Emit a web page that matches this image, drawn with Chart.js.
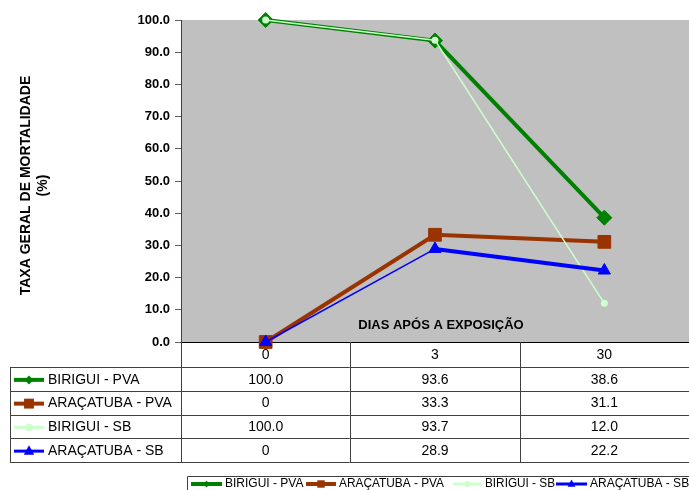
<!DOCTYPE html>
<html>
<head>
<meta charset="utf-8">
<script src="https://cdn.jsdelivr.net/npm/chart.js@4/dist/chart.umd.min.js"></script>
<style>
  html, body { margin: 0; padding: 0; background: #ffffff; }
  #wrap { width: 689px; height: 490px; }
</style>
</head>
<body>
<div id="wrap"><canvas id="chart" width="689" height="490"></canvas></div>
<script>
// Days after exposure and mortality rates (%)
const days = ['0', '3', '30'];
const biriguiPva = [100.0, 93.6, 38.6];
const aracatubaPva = [0, 33.3, 31.1];
const biriguiSb = [100.0, 93.7, 12.0];
const aracatubaSb = [0, 28.9, 22.2];
const seriesNames = ['BIRIGUI - PVA', 'ARAÇATUBA - PVA', 'BIRIGUI - SB', 'ARAÇATUBA - SB'];
const yTitle = ['TAXA GERAL DE MORTALIDADE', '(%)'];
const xTitle = 'DIAS APÓS A EXPOSIÇÃO';

const FONT = "Arial, 'Liberation Sans', sans-serif";
const GREEN = '#008000', BROWN = '#993300', LIGHT = '#CCFFCC', BLUE = '#0000FF';
const LINE = '#404040';

// marker look per series: [pointStyle, color, table/legend radius, sample line width]
const swatches = [
  ['rectRot', GREEN, 4.5, 4],
  ['rect', BROWN, 7, 4],
  ['circle', LIGHT, 4, 3],
  ['triangle', BLUE, 6, 3]
];

function drawMarker(ctx, style, x, y, r, color) {
  ctx.save();
  ctx.fillStyle = color;
  ctx.beginPath();
  if (style === 'rectRot') {
    ctx.moveTo(x, y - r); ctx.lineTo(x + r, y); ctx.lineTo(x, y + r); ctx.lineTo(x - r, y);
  } else if (style === 'rect') {
    const s = r * Math.SQRT1_2;
    ctx.rect(x - s, y - s, 2 * s, 2 * s);
  } else if (style === 'triangle') {
    ctx.moveTo(x, y - r);
    ctx.lineTo(x + r * 0.866, y + r * 0.6);
    ctx.lineTo(x - r * 0.866, y + r * 0.6);
  } else {
    ctx.arc(x, y, r, 0, Math.PI * 2);
  }
  ctx.closePath();
  ctx.fill();
  ctx.restore();
}

function drawSwatch(ctx, i, x0, x1, y, scale) {
  const [style, color, r, lw] = swatches[i];
  ctx.save();
  ctx.strokeStyle = color;
  ctx.lineWidth = lw;
  ctx.beginPath();
  ctx.moveTo(x0, y); ctx.lineTo(x1, y);
  ctx.stroke();
  ctx.restore();
  drawMarker(ctx, style, (x0 + x1) / 2, y, r * scale, color);
}

const fmt = v => (v === 0 ? '0' : v.toFixed(1));

// grey plot background
const plotBackground = {
  id: 'plotBackground',
  beforeDraw(chart) {
    const { ctx, chartArea: a } = chart;
    ctx.save();
    ctx.fillStyle = '#C0C0C0';
    ctx.fillRect(a.left, a.top, a.right - a.left, a.bottom - a.top);
    ctx.restore();
  }
};

// axis titles, data table and bottom legend
const extras = {
  id: 'extras',
  beforeDatasetsDraw(chart) {
    const { ctx } = chart;
    ctx.save();
    // x title sits inside the plot area
    ctx.fillStyle = '#000';
    ctx.font = 'bold 13px ' + FONT;
    ctx.textAlign = 'center';
    ctx.textBaseline = 'middle';
    ctx.fillText(xTitle, 441, 325);
    ctx.restore();
  },
  afterDraw(chart) {
    const { ctx, chartArea: a, scales } = chart;
    const x = scales.x;
    const data = [biriguiPva, aracatubaPva, biriguiSb, aracatubaSb];

    // y title, two rotated lines
    ctx.save();
    ctx.fillStyle = '#000';
    ctx.font = 'bold 14px ' + FONT;
    ctx.textAlign = 'center';
    ctx.textBaseline = 'middle';
    const ty = 185.5;
    [26, 43.5].forEach((tx, k) => {
      ctx.save();
      ctx.translate(tx, ty);
      ctx.rotate(-Math.PI / 2);
      ctx.fillText(yTitle[k], 0, 0);
      ctx.restore();
    });
    ctx.restore();

    // data table
    const tableLeft = 10;
    const headTop = a.bottom;
    const rowTop = 367;
    const rowH = 23.75;
    const tableBottom = rowTop + rowH * data.length;
    const centers = days.map((d, i) => x.getPixelForValue(i));
    const bounds = [a.left];
    for (let i = 0; i < centers.length - 1; i++) bounds.push((centers[i] + centers[i + 1]) / 2);

    ctx.save();
    ctx.strokeStyle = LINE;
    ctx.lineWidth = 1;
    ctx.beginPath();
    for (let r = 0; r <= data.length; r++) {
      const yy = Math.round(rowTop + rowH * r) + 0.5;
      ctx.moveTo(tableLeft, yy); ctx.lineTo(a.right, yy);
    }
    ctx.moveTo(tableLeft + 0.5, rowTop); ctx.lineTo(tableLeft + 0.5, Math.round(tableBottom) + 1);
    bounds.forEach((bx, i) => {
      const px = Math.round(bx) + 0.5;
      ctx.moveTo(px, i === 0 ? a.top : headTop); ctx.lineTo(px, Math.round(tableBottom) + 1);
    });
    ctx.stroke();

    ctx.font = '14px ' + FONT;
    ctx.fillStyle = '#000';
    ctx.textBaseline = 'middle';
    data.forEach((vals, r) => {
      const cy = rowTop + rowH * r + rowH / 2 + 1;
      drawSwatch(ctx, r, 14, 44, cy, 1);
      ctx.fillStyle = '#000';
      ctx.textAlign = 'left';
      ctx.fillText(seriesNames[r], 48, cy);
      ctx.textAlign = 'center';
      vals.forEach((v, c) => ctx.fillText(fmt(v), centers[c], cy));
    });
    ctx.restore();

    // bottom legend
    const lgTop = 476.5, lgLeft = 187.5;
    ctx.save();
    ctx.strokeStyle = LINE;
    ctx.lineWidth = 1;
    ctx.beginPath();
    ctx.moveTo(lgLeft, 490); ctx.lineTo(lgLeft, lgTop); ctx.lineTo(689, lgTop);
    ctx.stroke();
    // [sample start, sample end, room for the text]
    const items = [[191, 222, 82], [306, 336, 105], [453, 482, 70], [556, 587, 100]];
    const ly = 484;
    ctx.font = '12px ' + FONT;
    ctx.textBaseline = 'middle';
    ctx.textAlign = 'left';
    items.forEach(([s0, s1, room], i) => {
      drawSwatch(ctx, i, s0, s1, ly, 0.75);
      ctx.fillStyle = '#000';
      ctx.fillText(seriesNames[i], s1 + 3, ly, room);
    });
    ctx.restore();
  }
};

new Chart(document.getElementById('chart'), {
  type: 'line',
  data: {
    labels: days,
    datasets: [
      { label: seriesNames[0], data: biriguiPva, borderColor: GREEN, backgroundColor: GREEN,
        borderWidth: 4, pointStyle: 'rectRot', pointRadius: 7.5, pointBorderWidth: 1,
        pointBackgroundColor: GREEN, pointBorderColor: GREEN, order: 4 },
      { label: seriesNames[1], data: aracatubaPva, borderColor: BROWN, backgroundColor: BROWN,
        borderWidth: 4, pointStyle: 'rect', pointRadius: 9, pointBorderWidth: 1,
        pointBackgroundColor: BROWN, pointBorderColor: BROWN, order: 3 },
      { label: seriesNames[2], data: biriguiSb, borderColor: LIGHT, backgroundColor: LIGHT,
        borderWidth: 1.5, pointStyle: 'circle', pointRadius: 3.5, pointBorderWidth: 0,
        pointBackgroundColor: LIGHT, pointBorderColor: LIGHT, order: 2 },
      { label: seriesNames[3], data: aracatubaSb, borderColor: BLUE, backgroundColor: BLUE,
        borderWidth: 4, segment: { borderWidth: c => (c.p0DataIndex === 0 ? 1.5 : 4) },
        pointStyle: 'triangle', pointRadius: 7, pointBorderWidth: 1,
        pointBackgroundColor: BLUE, pointBorderColor: BLUE, order: 1 }
    ]
  },
  options: {
    responsive: false,
    animation: false,
    devicePixelRatio: 1,
    clip: false,
    layout: { autoPadding: false, padding: { top: 20, left: 0, right: 0, bottom: 0 } },
    plugins: { legend: { display: false }, tooltip: { enabled: false } },
    elements: { line: { tension: 0 } },
    scales: {
      x: {
        offset: true,
        grid: { display: false },
        border: { display: true, color: '#000', width: 1 },
        ticks: { color: '#000', font: { family: FONT, size: 14 }, padding: -3, maxRotation: 0 },
        afterFit: s => { s.height = 148; }
      },
      y: {
        min: 0, max: 100,
        grid: { drawOnChartArea: false, drawTicks: true, tickLength: 6, color: '#606060' },
        border: { display: true, color: '#606060', width: 1 },
        ticks: { stepSize: 10, color: '#000', padding: 5,
          font: { family: FONT, size: 13, weight: 'bold' },
          callback: v => Number(v).toFixed(1) },
        afterFit: s => { s.width = 181; }
      }
    }
  },
  plugins: [plotBackground, extras]
});
</script>
</body>
</html>
